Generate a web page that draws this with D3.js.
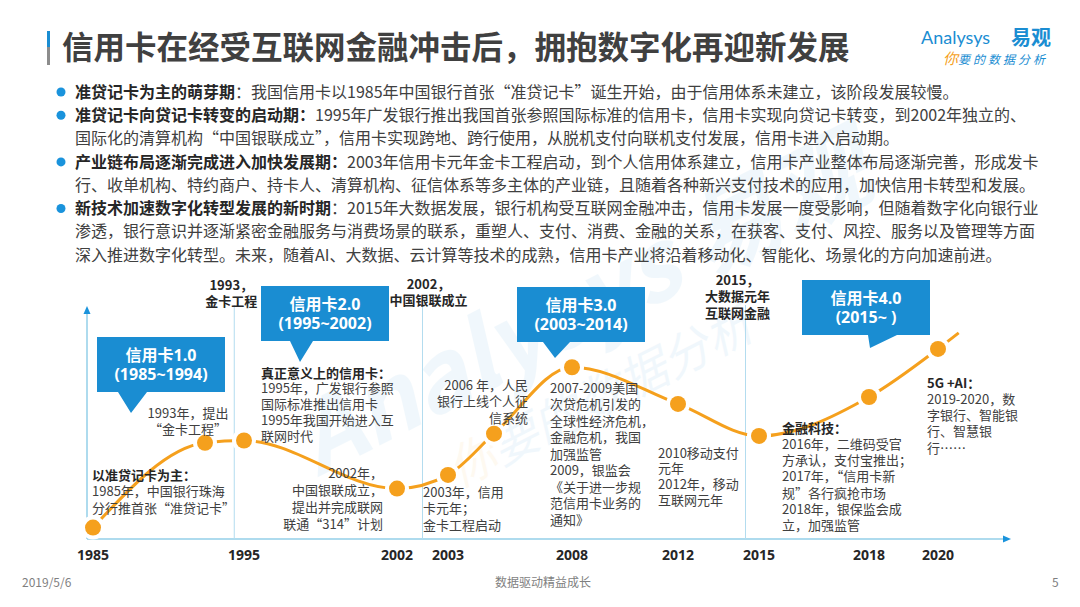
<!DOCTYPE html>
<meta charset="utf-8">
<style>
body { margin: 0; background: #fff; }
svg { display: block; font-family: "Open Sans", "Noto Sans CJK SC", sans-serif; }
.cjk { font-family: "Noto Sans CJK SC", sans-serif; }
</style>
<svg width="1080" height="607"></svg>
<script src="https://d3js.org/d3.v7.min.js"></script>
<script>

// ---- data ----
var milestoneYears = [1985, 1993, 1995, 2002, 2003, 2006, 2008, 2012, 2015, 2018, 2020];
var levels         = [5,    42,   43,   22,   28,   46,   75,   59,   45,   62,   83];
var tailYear = 2020.6, tailLevel = 90;   // the curve runs on past the last dot

var tickYears = [1985, 1995, 2002, 2003, 2008, 2012, 2015, 2018, 2020];
var eraBounds = [1994.5, 2002.5, 2014.5];

var eraTitles = ["信用卡1.0", "信用卡2.0", "信用卡3.0", "信用卡4.0"];
var eraRanges = ["(1985~1994)", "(1995~2002)", "(2003~2014)", "(2015~ )"];

var topEvents = [
  ["1993，", "金卡工程"],
  ["2002，", "中国银联成立"],
  ["2015，", "大数据元年", "互联网金融"]
];

var notes = [
  ["以准贷记卡为主：", "1985年，中国银行珠海", "分行推首张“准贷记卡”"],
  ["1993年，提出", "“金卡工程”"],
  ["真正意义上的信用卡：", "1995年，广发银行参照", "国际标准推出信用卡", "1995年我国开始进入互", "联网时代"],
  ["2002年，", "中国银联成立，", "提出并完成联网", "联通“314”计划"],
  ["2003年，信用", "卡元年；", "金卡工程启动"],
  ["2006 年，人民", "银行上线个人征", "信系统"],
  ["2007-2009美国", "次贷危机引发的", "全球性经济危机，", "金融危机，我国", "加强监管", "2009，银监会", "《关于进一步规", "范信用卡业务的", "通知》"],
  ["2010移动支付", "元年", "2012年，移动", "互联网元年"],
  ["金融科技：", "2016年，二维码受官", "方承认，支付宝推出；", "2017年，“信用卡新", "规”各行疯抢市场", "2018年，银保监会成", "立，加强监管"],
  ["5G +AI：", "2019-2020，数", "字银行、智能银", "行、智慧银", "行……"]
];

var bulletHeads = ["准贷记卡为主的萌芽期", "准贷记卡向贷记卡转变的启动期：", "产业链布局逐渐完成进入加快发展期：", "新技术加速数字化转型发展的新时期"];
var bulletLines = [
  ["：我国信用卡以1985年中国银行首张“准贷记卡”诞生开始，由于信用体系未建立，该阶段发展较慢。"],
  ["1995年广发银行推出我国首张参照国际标准的信用卡，信用卡实现向贷记卡转变，到2002年独立的、",
   "国际化的清算机构“中国银联成立”，信用卡实现跨地、跨行使用，从脱机支付向联机支付发展，信用卡进入启动期。"],
  ["2003年信用卡元年金卡工程启动，到个人信用体系建立，信用卡产业整体布局逐渐完善，形成发卡",
   "行、收单机构、特约商户、持卡人、清算机构、征信体系等多主体的产业链，且随着各种新兴支付技术的应用，加快信用卡转型和发展。"],
  ["：2015年大数据发展，银行机构受互联网金融冲击，信用卡发展一度受影响，但随着数字化向银行业",
   "渗透，银行意识并逐渐紧密金融服务与消费场景的联系，重塑人、支付、消费、金融的关系，在获客、支付、风控、服务以及管理等方面",
   "深入推进数字化转型。未来，随着AI、大数据、云计算等技术的成熟，信用卡产业将沿着移动化、智能化、场景化的方向加速前进。"]
];

// ---- layout ----
var blue = "#1a8dd2", orange = "#f5a01d", axisBlue = "#93cfe8", text = "#404040", dark = "#262626";
var xStops = [93, 205, 244, 397, 448, 494, 572, 678, 759, 869, 938];  // timeline is not to scale
var axisY = 539, axisTop = 310, axisX0 = 87, axisX1 = 1007;

var boxes = [
  {x: 97,  y: 337, base: [118, 147], tip: [131, 413]},
  {x: 261, y: 286, base: [290, 313], tip: [300, 362]},
  {x: 517, y: 287, base: [543, 570], tip: [555, 358]},
  {x: 802, y: 280, base: [868, 897], tip: [870, 348]}
];
var boxW = 128, boxH = 55;

var topEventPos = [{dx: -3, y: 285}, {dx: 6, y: 284}, {dx: -8, y: 280}];

var notePos = [
  {x: 92,  y: 475, anchor: "start",  bold: true,  step: 16.5},
  {x: 188, y: 413, anchor: "middle", bold: false, step: 16.5},
  {x: 261, y: 373, anchor: "start",  bold: true,  step: 15.8},
  {x: 383, y: 473, anchor: "end",    bold: false, step: 17},
  {x: 423, y: 492, anchor: "start",  bold: false, step: 16.5},
  {x: 528, y: 385, anchor: "end",    bold: false, step: 16.5},
  {x: 550, y: 388, anchor: "start",  bold: false, step: 16.5},
  {x: 658, y: 453, anchor: "start",  bold: false, step: 15.8},
  {x: 782, y: 428, anchor: "start",  bold: true,  step: 16.3},
  {x: 927, y: 383, anchor: "start",  bold: true,  step: 16.3}
];

var svg = d3.select("svg");

var x = d3.scaleLinear().domain(milestoneYears).range(xStops);
var y = d3.scaleLinear().domain([0, 100]).range([axisY, axisTop]);

// watermark, very faint
var wm = svg.append("g")
    .attr("class", "cjk")
    .attr("transform", "translate(515,390) rotate(-27)")
    .attr("opacity", 0.06);
wm.append("text").attr("x", -215).attr("y", -12)
    .attr("font-size", 96).attr("font-weight", "bold").attr("font-style", "italic")
    .attr("fill", "#1a8dd2").text("Analysys 易观");
var wm2 = wm.append("text").attr("x", -95).attr("y", 62)
    .attr("font-size", 48).attr("font-style", "italic")
    .attr("fill", "#1a8dd2");
wm2.append("tspan").attr("fill", orange).text("你");
wm2.append("tspan").text("要的数据分析");

// ---- header ----
svg.append("rect").attr("x", 47).attr("y", 31).attr("width", 3).attr("height", 16).attr("fill", blue);
svg.append("rect").attr("x", 47).attr("y", 47).attr("width", 3).attr("height", 18).attr("fill", "#8c8c8c");
svg.append("text").attr("class", "cjk")
    .attr("x", 62).attr("y", 48).attr("dy", "0.35em")
    .attr("font-size", 31.5).attr("font-weight", "bold").attr("fill", text)
    .text("信用卡在经受互联网金融冲击后，拥抱数字化再迎新发展");

var logo = svg.append("g");
logo.append("text").attr("x", 921).attr("y", 44)
    .attr("font-family", "Lato, 'Open Sans', sans-serif").attr("font-size", 18).attr("fill", blue)
    .text("Analysys");
logo.append("text").attr("class", "cjk").attr("x", 1011).attr("y", 45)
    .attr("font-size", 20).attr("font-weight", "bold").attr("fill", blue).text("易观");
var slogan = logo.append("text").attr("class", "cjk").attr("x", 943).attr("y", 64)
    .attr("font-size", 12).attr("font-style", "italic").attr("fill", blue);
slogan.append("tspan").attr("fill", orange).attr("font-size", 15).text("你");
slogan.append("tspan").attr("letter-spacing", 3).text("要的数据分析");

// ---- bullets ----
var lineY = 92, lineStep = 23.3;
bulletHeads.forEach(function(head, i) {
  var g = svg.append("g").attr("class", "cjk").attr("font-size", 16);
  g.append("circle").attr("cx", 61).attr("cy", lineY).attr("r", 4.5).attr("fill", "#1a93dc");
  bulletLines[i].forEach(function(line, j) {
    var t = g.append("text").attr("x", 75).attr("y", lineY).attr("dy", "0.35em").attr("fill", text);
    if (j === 0) t.append("tspan").attr("font-weight", "bold").attr("fill", dark).text(head);
    t.append("tspan").text(line);
    lineY += lineStep;
  });
});

// ---- timeline axes ----
var axes = svg.append("g");
axes.append("line").attr("x1", axisX0).attr("x2", axisX0).attr("y1", axisY).attr("y2", axisTop + 4)
    .attr("stroke", axisBlue).attr("stroke-width", 1.5);
axes.append("path").attr("d", "M" + axisX0 + "," + (axisTop - 4) + "l-3.5,8h7z").attr("fill", "#1a93dc");
axes.append("line").attr("x1", axisX0).attr("x2", axisX1 - 4).attr("y1", axisY).attr("y2", axisY)
    .attr("stroke", axisBlue).attr("stroke-width", 1.5);
axes.append("path").attr("d", "M" + (axisX1 + 4) + "," + axisY + "l-8,-3.5v7z").attr("fill", "#1a93dc");

axes.selectAll(".era-line").data(eraBounds).enter().append("line")
    .attr("x1", function(d) { return x(d); }).attr("x2", function(d) { return x(d); })
    .attr("y1", 305).attr("y2", axisY)
    .attr("stroke", "#b3dcef").attr("stroke-width", 1);

axes.selectAll(".tick-label").data(tickYears).enter().append("text")
    .attr("x", function(d) { return x(d); }).attr("y", 555).attr("dy", "0.35em")
    .attr("text-anchor", "middle").attr("font-size", 14).attr("font-weight", "bold").attr("fill", dark)
    .text(function(d) { return d; });

// events written over the era separators
topEvents.forEach(function(lines, i) {
  var p = topEventPos[i];
  svg.append("g").attr("class", "cjk").selectAll("text").data(lines).enter().append("text")
      .attr("x", x(eraBounds[i]) + p.dx)
      .attr("y", function(d, j) { return p.y + j * 16.5; }).attr("dy", "0.35em")
      .attr("text-anchor", "middle").attr("font-size", 13).attr("font-weight", "bold").attr("fill", dark)
      .text(function(d) { return d; });
});

// ---- curve and dots ----
var pts = milestoneYears.map(function(yr, i) { return [yr, levels[i]]; });
var line = d3.line()
    .x(function(d) { return x(d[0]); })
    .y(function(d) { return y(d[1]); })
    .curve(d3.curveMonotoneX);

svg.append("path").datum(pts.concat([[tailYear, tailLevel]]))
    .attr("d", line).attr("fill", "none").attr("stroke", orange).attr("stroke-width", 3);

var dots = svg.append("g").selectAll("g").data(pts).enter().append("g")
    .attr("transform", function(d) { return "translate(" + x(d[0]) + "," + y(d[1]) + ")"; });
dots.append("circle").attr("r", 12).attr("fill", "#fff");
dots.append("circle").attr("r", 8).attr("fill", orange);

// ---- era callouts ----
boxes.forEach(function(b, i) {
  var g = svg.append("g");
  g.append("path")
      .attr("d", "M" + b.x + "," + b.y + "h" + boxW + "v" + boxH +
                 "H" + b.base[1] + "L" + b.tip[0] + "," + b.tip[1] + "L" + b.base[0] + "," + (b.y + boxH) +
                 "H" + b.x + "z")
      .attr("fill", blue);
  g.append("text").attr("x", b.x + boxW / 2).attr("y", b.y + 18).attr("dy", "0.35em")
      .attr("text-anchor", "middle").attr("font-size", 16).attr("font-weight", "bold").attr("fill", "#fff")
      .text(eraTitles[i]);
  g.append("text").attr("x", b.x + boxW / 2).attr("y", b.y + 37).attr("dy", "0.35em")
      .attr("text-anchor", "middle").attr("font-size", 16).attr("font-weight", "bold").attr("fill", "#fff")
      .text(eraRanges[i]);
});

// ---- annotations ----
notes.forEach(function(lines, i) {
  var p = notePos[i];
  svg.append("g").attr("class", "cjk").selectAll("text").data(lines).enter().append("text")
      .attr("x", p.x)
      .attr("y", function(d, j) { return p.y + j * p.step; }).attr("dy", "0.35em")
      .attr("text-anchor", p.anchor).attr("font-size", 13)
      .attr("font-weight", function(d, j) { return p.bold && j === 0 ? "bold" : null; })
      .attr("fill", function(d, j) { return p.bold && j === 0 ? dark : text; })
      .text(function(d) { return d; });
});

// ---- footer ----
var foot = svg.append("g").attr("class", "cjk").attr("font-size", 12).attr("fill", "#7f7f7f");
foot.append("text").attr("x", 22).attr("y", 583).attr("dy", "0.35em").text("2019/5/6");
foot.append("text").attr("x", 543).attr("y", 583).attr("dy", "0.35em").attr("text-anchor", "middle").text("数据驱动精益成长");
foot.append("text").attr("x", 1052).attr("y", 583).attr("dy", "0.35em").text("5");

</script>
